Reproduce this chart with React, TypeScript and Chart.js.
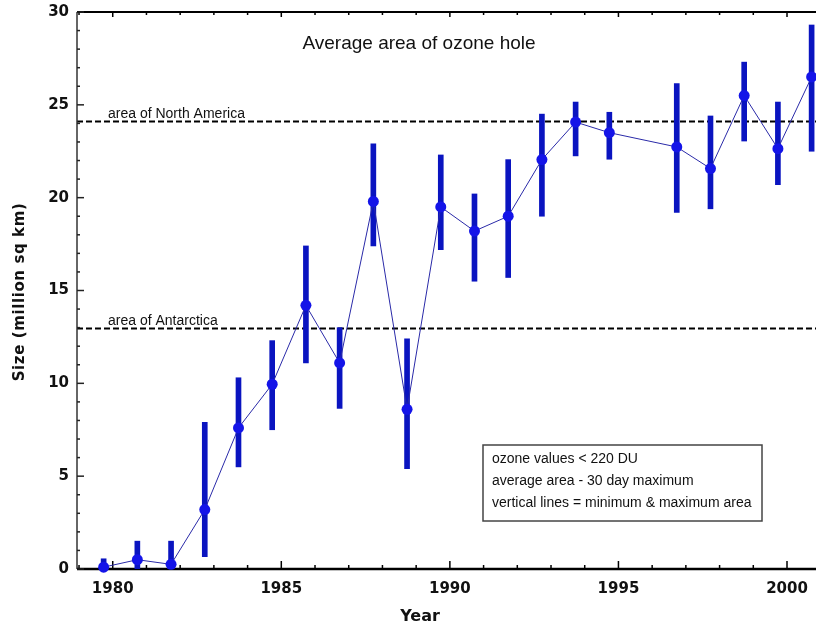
import { useEffect, useRef } from 'react';
import { Chart, registerables } from 'chart.js';

Chart.register(...registerables);

// Ozone hole seasons (no 1995 measurement)
const seasonYears = [1979, 1980, 1981, 1982, 1983, 1984, 1985, 1986, 1987, 1988, 1989, 1990, 1991, 1992, 1993, 1994, 1996, 1997, 1998, 1999, 2000];
// peak of the season (Sept–Oct) as a fraction of the year
const SEASON_OFFSET = 0.73;
const averageArea = [0.1, 0.5, 0.25, 3.2, 7.6, 9.95, 14.2, 11.1, 19.8, 8.6, 19.5, 18.2, 19.0, 22.05, 24.07, 23.5, 22.73, 21.57, 25.5, 22.64, 26.5];
const minArea = [0, 0, 0, 0.66, 5.5, 7.5, 11.1, 8.65, 17.4, 5.4, 17.2, 15.5, 15.7, 19.0, 22.25, 22.07, 19.2, 19.4, 23.05, 20.7, 22.5];
const maxArea = [0.55, 1.5, 1.5, 7.9, 10.3, 12.3, 17.4, 13.0, 22.9, 12.4, 22.3, 20.2, 22.05, 24.5, 25.15, 24.6, 26.14, 24.4, 27.3, 25.15, 29.3];

const xTickYears = [1980, 1985, 1990, 1995, 2000];
const yTickValues = [0, 5, 10, 15, 20, 25, 30];

const referenceLabels = ['area of North America', 'area of Antarctica'];
const referenceValues = [24.1, 12.95];

const noteLines = ['ozone values < 220 DU', 'average area - 30 day maximum', 'vertical lines = minimum & maximum area'];

const TITLE = 'Average area of ozone hole';
const X_TITLE = 'Year';
const Y_TITLE = 'Size (million sq km)';

const SANS = '"Liberation Sans", Arial, sans-serif';
const BOLD_SANS = '"DejaVu Sans", Verdana, sans-serif';

const decorPlugin = {
  id: 'decor',
  beforeDatasetsDraw(chart: any) {
    const { ctx, chartArea: a, scales } = chart;
    const x = scales.x;
    const y = scales.y;
    ctx.save();

    // reference dashed lines + labels
    referenceValues.forEach((v, i) => {
      const py = y.getPixelForValue(v);
      ctx.strokeStyle = '#000';
      ctx.lineWidth = 2;
      ctx.setLineDash([6, 3]);
      ctx.beginPath();
      ctx.moveTo(a.left, py);
      ctx.lineTo(a.right, py);
      ctx.stroke();
      ctx.setLineDash([]);
      ctx.fillStyle = '#111';
      ctx.font = `14px ${SANS}`;
      ctx.textAlign = 'left';
      ctx.textBaseline = 'alphabetic';
      ctx.fillText(referenceLabels[i], a.left + 31, py - 4);
    });

    // frame
    ctx.strokeStyle = '#000';
    ctx.lineWidth = 2;
    ctx.beginPath();
    ctx.moveTo(a.left, a.top);
    ctx.lineTo(a.right, a.top);
    ctx.stroke();
    ctx.strokeStyle = '#333';
    ctx.lineWidth = 1.5;
    ctx.beginPath();
    ctx.moveTo(a.left, a.top);
    ctx.lineTo(a.left, a.bottom);
    ctx.stroke();
    ctx.strokeStyle = '#000';
    ctx.lineWidth = 2.5;
    ctx.beginPath();
    ctx.moveTo(a.left, a.bottom);
    ctx.lineTo(a.right, a.bottom);
    ctx.stroke();

    // x ticks (bottom and top, inward)
    ctx.lineWidth = 1.5;
    ctx.strokeStyle = '#000';
    for (let yr = Math.ceil(x.min); yr <= Math.floor(x.max); yr++) {
      const px = x.getPixelForValue(yr);
      const major = yr % 5 === 0;
      ctx.beginPath();
      ctx.moveTo(px, a.bottom);
      ctx.lineTo(px, a.bottom - (major ? 8 : 4));
      ctx.moveTo(px, a.top);
      ctx.lineTo(px, a.top + (major ? 5 : 3));
      ctx.stroke();
    }
    // y ticks (inward)
    ctx.strokeStyle = '#222';
    for (let v = y.min; v <= y.max; v++) {
      const py = y.getPixelForValue(v);
      const major = v % 5 === 0;
      ctx.beginPath();
      ctx.moveTo(a.left, py);
      ctx.lineTo(a.left + (major ? 7 : 3), py);
      ctx.stroke();
    }

    // chart title
    ctx.fillStyle = '#111';
    ctx.font = `19px ${SANS}`;
    ctx.textAlign = 'center';
    ctx.textBaseline = 'middle';
    ctx.fillText(TITLE, 419, 44);

    // axis titles
    ctx.font = `bold 16px ${BOLD_SANS}`;
    ctx.fillStyle = '#111';
    ctx.fillText(X_TITLE, 420, 617);

    ctx.save();
    ctx.translate(20, 292);
    ctx.rotate(-Math.PI / 2);
    ctx.font = `bold 15px ${BOLD_SANS}`;
    try { (ctx as any).letterSpacing = '0.6px'; } catch (e) {}
    ctx.fillText(Y_TITLE, 0, 0);
    ctx.restore();

    // note box
    ctx.fillStyle = '#fff';
    ctx.fillRect(483, 445, 279, 76);
    ctx.strokeStyle = '#444';
    ctx.lineWidth = 1.5;
    ctx.strokeRect(483, 445, 279, 76);
    ctx.fillStyle = '#111';
    ctx.font = `14px ${SANS}`;
    ctx.textAlign = 'left';
    ctx.textBaseline = 'middle';
    noteLines.forEach((t, i) => {
      ctx.fillText(t, 492, 459.5 + i * 22);
    });

    ctx.restore();
  },
};

export default function App() {
  const ref = useRef<HTMLCanvasElement | null>(null);

  useEffect(() => {
    if (!ref.current) return;
    const chart = new Chart(ref.current, {
      type: 'scatter',
      data: {
        datasets: [
          {
            type: 'line',
            label: 'Average area',
            data: seasonYears.map((yr, i) => ({ x: yr + SEASON_OFFSET, y: averageArea[i] })),
            borderColor: '#2a2aa8',
            borderWidth: 1,
            pointRadius: 5.5,
            pointHoverRadius: 5.5,
            pointBackgroundColor: '#1414e8',
            pointBorderWidth: 0,
            fill: false,
            tension: 0,
            clip: false,
            order: 1,
          } as any,
          {
            type: 'bar',
            label: 'Minimum & maximum area',
            data: seasonYears.map((yr, i) => ({ x: yr + SEASON_OFFSET, y: [minArea[i], maxArea[i]] })),
            backgroundColor: '#0a14c0',
            borderWidth: 0,
            barThickness: 5,
            grouped: false,
            order: 2,
          } as any,
        ],
      },
      options: {
        animation: false,
        responsive: false,
        events: [],
        layout: { autoPadding: false, padding: { top: 12, right: 0, left: 0, bottom: 0 } },
        plugins: { legend: { display: false }, tooltip: { enabled: false } },
        scales: {
          x: {
            type: 'linear',
            min: 1978.94,
            max: 2000.86,
            offset: false,
            grid: { display: false, drawTicks: false, offset: false },
            border: { display: false },
            afterBuildTicks: (s: any) => {
              s.ticks = xTickYears.map((v) => ({ value: v }));
            },
            afterFit: (s: any) => {
              s.height = 64;
              s.paddingLeft = 0;
              s.paddingRight = 0;
              s.paddingTop = 0;
              s.paddingBottom = 0;
            },
            ticks: {
              autoSkip: false,
              maxRotation: 0,
              padding: 11,
              color: '#111',
              font: { family: BOLD_SANS, size: 15, weight: 'bold' },
              callback: (v: any) => String(v),
            },
          },
          y: {
            type: 'linear',
            min: 0,
            max: 30,
            grid: { display: false, drawTicks: false },
            border: { display: false },
            afterBuildTicks: (s: any) => {
              s.ticks = yTickValues.map((v) => ({ value: v }));
            },
            afterFit: (s: any) => {
              s.width = 77;
              s.paddingLeft = 0;
              s.paddingRight = 0;
              s.paddingTop = 0;
              s.paddingBottom = 0;
            },
            ticks: {
              autoSkip: false,
              padding: 8,
              color: '#111',
              font: { family: BOLD_SANS, size: 15, weight: 'bold' },
              callback: (v: any) => String(v),
            },
          },
        },
      } as any,
      plugins: [decorPlugin],
    });
    return () => chart.destroy();
  }, []);

  return (
    <div style={{ position: 'fixed', left: 0, top: 0, width: 816, height: 633, background: '#fff', overflow: 'hidden' }}>
      <canvas ref={ref} width={816} height={633} style={{ width: 816, height: 633, display: 'block' }} />
    </div>
  );
}
